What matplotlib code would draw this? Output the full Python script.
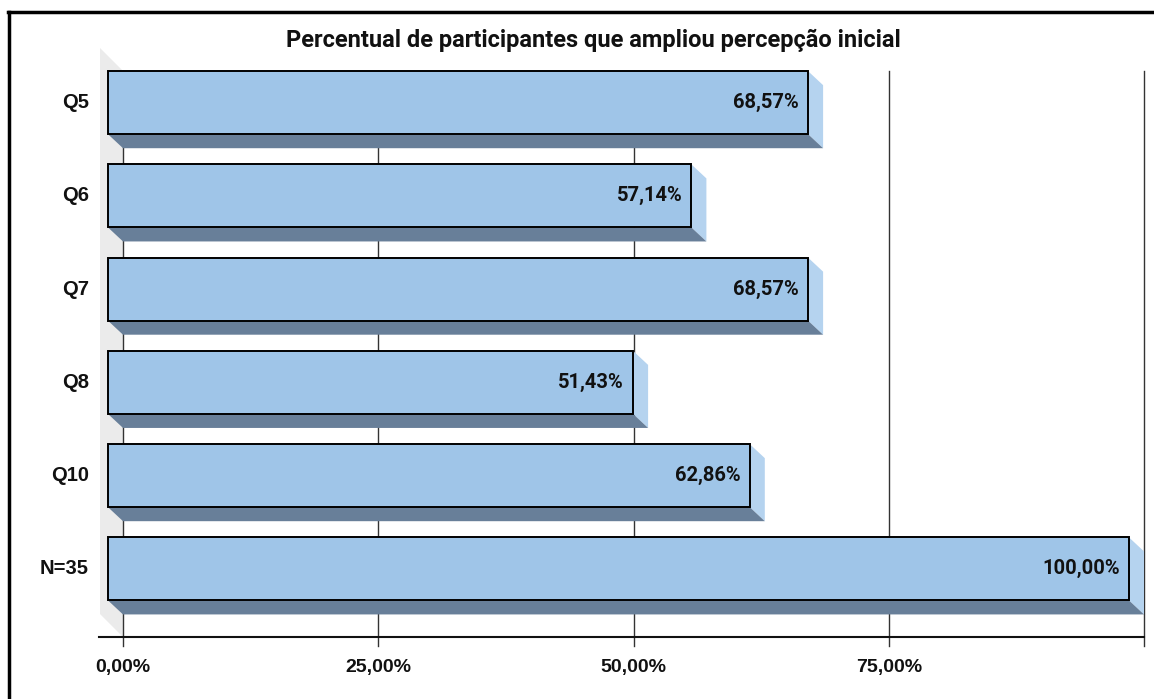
import numpy as np
import matplotlib.pyplot as plt
from matplotlib.patches import Polygon, Rectangle
from matplotlib.lines import Line2D

# Data
categories = ["Q5", "Q6", "Q7", "Q8", "Q10", "N=35"]
values = [68.57, 57.14, 68.57, 51.43, 62.86, 100.00]
value_labels = ["68,57%", "57,14%", "68,57%", "51,43%", "62,86%", "100,00%"]
ticks = [0, 25, 50, 75, 100]
tick_labels = ["0,00%", "25,00%", "50,00%", "75,00%", ""]
title = "Percentual de participantes que ampliou percepção inicial"

plt.rcParams['font.family'] = ['Roboto', 'DejaVu Sans']
plt.rcParams['font.weight'] = 'bold'
arial = ['Liberation Sans', 'DejaVu Sans']

W, H = 1154, 699
fig = plt.figure(figsize=(W / 100, H / 100), dpi=100)
# back plane of the 3D box in pixels
left_px, right_px, top_px, bot_px = 123, 1144, 71, 637
ax = fig.add_axes([left_px / W, 1 - bot_px / H, (right_px - left_px) / W, (bot_px - top_px) / H])
ax.set_xlim(0, 100)
y0, y1 = -0.49, 5.58
ax.set_ylim(y1, y0)
ax.axis('off')

# pixel -> data unit conversions
px_x = 100 / (right_px - left_px)
px_y = (y1 - y0) / (bot_px - top_px)

depth_x, depth_y = 15 * px_x, 14 * px_y   # bar depth
wall_x, wall_y = 23 * px_x, 23 * px_y     # left wall depth
bar_h = 0.676

front_col = '#9fc5e8'
side_col = '#b5d3ef'
bottom_col = '#687f99'
wall_col = '#ebebeb'

# left wall
ax.add_patch(Polygon([(0, y0), (-wall_x, y0 - wall_y), (-wall_x, y1 - wall_y), (0, y1)],
                     closed=True, facecolor=wall_col, edgecolor='none', clip_on=False, zorder=0))

# gridlines + ticks
for t in ticks:
    ax.add_line(Line2D([t, t], [y0, y1 + 9 * px_y], color='#333333', lw=1.0, clip_on=False, zorder=1))
# floor line
ax.add_line(Line2D([-wall_x - 1 * px_x, 100], [y1, y1], color='#111111', lw=1.5, clip_on=False, zorder=1))

for i, (v, lab) in enumerate(zip(values, value_labels)):
    yb_top = i - bar_h / 2          # back face top
    yb_bot = i + bar_h / 2          # back face bottom
    # side face
    ax.add_patch(Polygon([(v - depth_x, yb_top - depth_y), (v, yb_top), (v, yb_bot), (v - depth_x, yb_bot - depth_y)],
                         closed=True, facecolor=side_col, edgecolor='none', clip_on=False, zorder=2))
    # bottom face
    ax.add_patch(Polygon([(-depth_x, yb_bot - depth_y), (0, yb_bot), (v, yb_bot), (v - depth_x, yb_bot - depth_y)],
                         closed=True, facecolor=bottom_col, edgecolor='none', clip_on=False, zorder=2))
    # front face
    ax.add_patch(Rectangle((-depth_x, yb_top - depth_y), v, bar_h, facecolor=front_col,
                           edgecolor='black', lw=1.4, clip_on=False, zorder=3))
    ax.text(v - depth_x - 9 * px_x, i - depth_y, lab, ha='right', va='center',
            fontsize=14.5, fontweight='bold', color='#111111', zorder=4)
    ax.text(-depth_x - 19 * px_x, i - depth_y, categories[i], ha='right', va='center',
            fontsize=14.5, fontweight='bold', color='#111111', family=arial, zorder=4)

for t, tl in zip(ticks, tick_labels):
    ax.text(t, y1 + 30 * px_y, tl, ha='center', va='center', fontsize=14,
            fontweight='bold', color='#111111', family=arial)

fig.text(593 / W, 1 - 40 / H, title, ha='center', va='center', fontsize=17, fontweight='bold', color='#111111')

# outer frame (top and left edges)
fig.add_artist(Line2D([8 / W, 1], [1 - 12 / H, 1 - 12 / H], color='black', lw=2.5, transform=fig.transFigure))
fig.add_artist(Line2D([9 / W, 9 / W], [0, 1 - 12 / H], color='black', lw=2.5, transform=fig.transFigure))

fig.savefig('out.png', dpi=100)
